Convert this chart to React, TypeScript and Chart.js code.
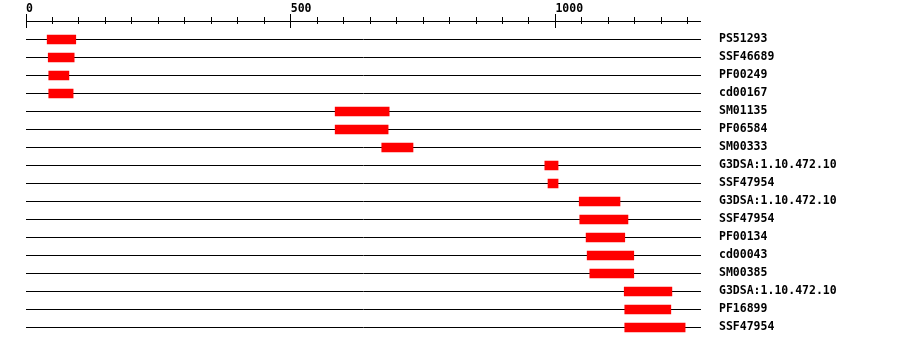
import React, { useEffect, useRef } from "react";
import { Chart, registerables } from "chart.js";

Chart.register(...registerables);

const names = [
  "PS51293", "SSF46689", "PF00249", "cd00167", "SM01135", "PF06584", "SM00333",
  "G3DSA:1.10.472.10", "SSF47954", "G3DSA:1.10.472.10", "SSF47954", "PF00134",
  "cd00043", "SM00385", "G3DSA:1.10.472.10", "PF16899", "SSF47954",
];
const starts = [40, 42, 43, 43, 584, 584, 672, 980, 986, 1045, 1046, 1058, 1060, 1065, 1130, 1131, 1131];
const ends = [94, 91, 81, 89, 686, 684, 731, 1005, 1005, 1122, 1137, 1131, 1148, 1148, 1220, 1218, 1245];
const axisMax = 1275;
const tickStep = 50;
const majorStep = 500;

const FONT = { family: "'DejaVu Sans Mono', monospace", size: 11.5, weight: "bold" as const };

const topAxisPlugin = {
  id: "topAxis",
  afterDraw(chart: any) {
    const { ctx, chartArea } = chart;
    const xs = chart.scales.x;
    const axisY = Math.floor(chartArea.top - 9);
    ctx.save();
    ctx.fillStyle = "#000";
    ctx.fillRect(Math.floor(chartArea.left), axisY, Math.round(chartArea.right - chartArea.left), 1);
    for (let v = 0; v <= axisMax; v += tickStep) {
      const px = Math.floor(xs.getPixelForValue(v));
      if (v % majorStep === 0) ctx.fillRect(px, axisY - 7, 1, 14);
      else ctx.fillRect(px, axisY - 4, 1, 7);
    }
    ctx.restore();
  },
};

export default function App() {
  const ref = useRef<HTMLCanvasElement | null>(null);
  useEffect(() => {
    if (!ref.current) return;
    const chart = new Chart(ref.current, {
      type: "bar",
      data: {
        labels: names,
        datasets: [
          {
            data: starts.map((s, i) => [s, ends[i]]),
            backgroundColor: "#ff0000",
            borderWidth: 0,
            barThickness: 9,
          },
        ],
      },
      options: {
        indexAxis: "y",
        animation: false,
        responsive: false,
        devicePixelRatio: 1,
        layout: { padding: { left: 26, top: 0, right: 0, bottom: 9.5 } },
        plugins: { legend: { display: false }, tooltip: { enabled: false } },
        scales: {
          x: {
            position: "top",
            min: 0,
            max: axisMax,
            grid: { display: false, drawTicks: false },
            border: { display: false },
            afterFit: (s: any) => { s.height = 30.5; },
            ticks: {
              stepSize: tickStep,
              autoSkip: false,
              maxRotation: 0,
              align: "start",
              padding: 15,
              color: "#000",
              font: FONT,
              callback: (v: any) => (Number(v) % majorStep === 0 ? String(v) : ""),
            },
          },
          y: {
            position: "right",
            grid: {
              display: true,
              offset: false,
              drawTicks: true,
              tickLength: 18,
              tickColor: "rgba(0,0,0,0)",
              color: "#000",
              lineWidth: 1,
            },
            border: { display: false },
            afterFit: (s: any) => { s.width = 199; },
            ticks: {
              padding: 0,
              color: "#000",
              font: FONT,
              autoSkip: false,
            },
          },
        },
      },
      plugins: [topAxisPlugin],
    });
    return () => chart.destroy();
  }, []);
  return (
    <div style={{ position: "absolute", left: 0, top: 0, width: 900, height: 346, background: "#fff" }}>
      <canvas ref={ref} width={900} height={346} />
    </div>
  );
}
